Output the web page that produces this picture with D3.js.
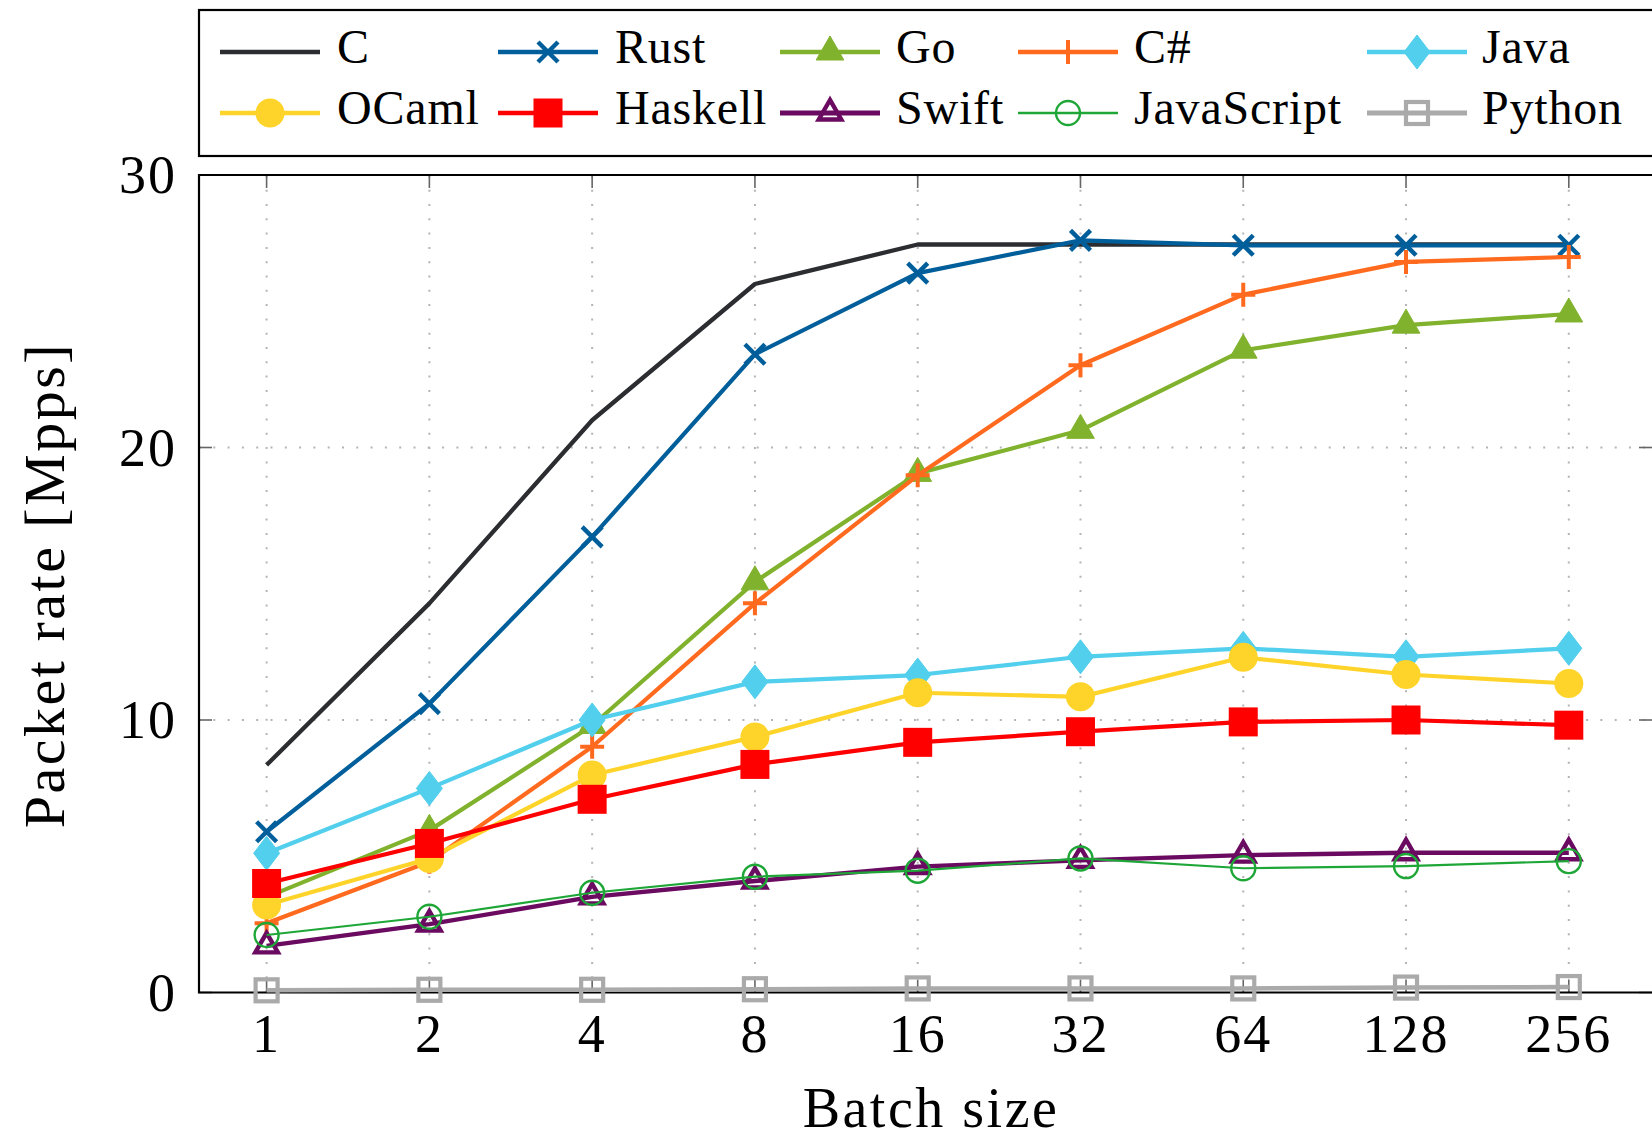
<!DOCTYPE html>
<html><head><meta charset="utf-8">
<script src="https://cdn.jsdelivr.net/npm/d3@7"></script>
<style>
html,body{margin:0;padding:0;background:#fff;}
svg{display:block;font-family:"Liberation Serif","Times New Roman",serif;}
</style></head>
<body>
<svg id="chart" width="1652" height="1143"></svg>
<script>
// ---- data ----
const batchSizes = ["1","2","4","8","16","32","64","128","256"];
const yTickValues = [0, 10, 20, 30];
const seriesNames = ["C","Rust","Go","C#","Java","OCaml","Haskell","Swift","JavaScript","Python"];
const valC       = [8.35, 14.28, 21.0, 26.0, 27.45, 27.45, 27.45, 27.45, 27.45];
const valRust    = [5.9, 10.6, 16.72, 23.42, 26.4, 27.6, 27.42, 27.42, 27.42];
const valGo      = [3.5, 5.95, 9.8, 15.07, 19.05, 20.63, 23.57, 24.49, 24.9];
const valCSharp  = [2.54, 4.8, 9.02, 14.28, 18.98, 23.02, 25.61, 26.81, 26.99];
const valJava    = [5.11, 7.49, 10.0, 11.4, 11.65, 12.32, 12.63, 12.32, 12.63];
const valOCaml   = [3.21, 4.92, 7.98, 9.38, 11.0, 10.85, 12.3, 11.67, 11.34];
const valHaskell = [4.0, 5.47, 7.09, 8.37, 9.18, 9.57, 9.93, 10.0, 9.81];
const valSwift   = [1.71, 2.51, 3.51, 4.09, 4.62, 4.85, 5.04, 5.13, 5.13];
const valJS      = [2.11, 2.78, 3.66, 4.25, 4.47, 4.92, 4.56, 4.64, 4.82];
const valPython  = [0.08, 0.1, 0.1, 0.12, 0.15, 0.15, 0.15, 0.18, 0.2];

// ---- styles ----
const styles = {
  "C":          {color:"#2b2d30", w:4.3, mark:"none"},
  "Rust":       {color:"#005f9b", w:4.2, mark:"x"},
  "Go":         {color:"#80b22d", w:4.2, mark:"triangleFilled"},
  "C#":         {color:"#ff6a1f", w:4.2, mark:"plus"},
  "Java":       {color:"#52cfec", w:4.2, mark:"diamond"},
  "OCaml":      {color:"#ffd42a", w:4.2, mark:"circleFilled"},
  "Haskell":    {color:"#ff0000", w:4.2, mark:"squareFilled"},
  "Swift":      {color:"#6a0a60", w:4.4, mark:"triangleOpen"},
  "JavaScript": {color:"#1ea637", w:2.2, mark:"circleOpen"},
  "Python":     {color:"#aaaaaa", w:4.5, mark:"squareOpen"}
};
const seriesValues = [valC, valRust, valGo, valCSharp, valJava, valOCaml, valHaskell, valSwift, valJS, valPython];

const svg = d3.select("#chart");
const L = 199, T = 175, B = 992.5, R = 1660;
const x = d3.scalePoint().domain(batchSizes).range([266.6, 1568.8]);
const y = d3.scaleLinear().domain([0, 30]).range([B, T]);

// grid
const grid = svg.append("g").attr("stroke","#b4b4b4").attr("stroke-width",2).attr("stroke-dasharray","2,12.3");
grid.selectAll("line.v").data(batchSizes).join("line")
  .attr("x1", d=>x(d)).attr("x2", d=>x(d)).attr("y1", B).attr("y2", T);
grid.selectAll("line.h").data(yTickValues.filter(v=>v>0 && v<30)).join("line")
  .attr("x1", L).attr("x2", R).attr("y1", d=>y(d)).attr("y2", d=>y(d));

// ticks (inward, all sides)
const tk = svg.append("g").attr("stroke","#666").attr("stroke-width",1.6);
batchSizes.forEach(d=>{
  tk.append("line").attr("x1",x(d)).attr("x2",x(d)).attr("y1",B).attr("y2",B-13);
  tk.append("line").attr("x1",x(d)).attr("x2",x(d)).attr("y1",T).attr("y2",T+13);
});
yTickValues.forEach(v=>{
  tk.append("line").attr("x1",L).attr("x2",L+13).attr("y1",y(v)).attr("y2",y(v));
  tk.append("line").attr("x1",1652).attr("x2",1652-13).attr("y1",y(v)).attr("y2",y(v));
});

// marker drawer
function drawMark(g, type, cx, cy, color) {
  if (type === "none") return;
  if (type === "x") {
    const h = 10;
    g.append("path").attr("d",`M${cx-h},${cy-h}L${cx+h},${cy+h}M${cx-h},${cy+h}L${cx+h},${cy-h}`)
      .attr("stroke",color).attr("stroke-width",4.4).attr("fill","none");
  } else if (type === "plus") {
    const h = 12;
    g.append("path").attr("d",`M${cx-h},${cy}L${cx+h},${cy}M${cx},${cy-h}L${cx},${cy+h}`)
      .attr("stroke",color).attr("stroke-width",4).attr("fill","none");
  } else if (type === "triangleFilled" || type === "triangleOpen") {
    const r = (type === "triangleFilled" ? 16 : 13);
    const pts = [[cx, cy-r],[cx-r*0.866, cy+r*0.5],[cx+r*0.866, cy+r*0.5]];
    const p = g.append("path").attr("d","M"+pts.map(p=>p.join(",")).join("L")+"Z");
    if (type === "triangleFilled") p.attr("fill",color).attr("stroke",color).attr("stroke-width",1);
    else p.attr("fill","none").attr("stroke",color).attr("stroke-width",4.4).attr("stroke-linejoin","miter");
  } else if (type === "diamond") {
    const hw = 13, hh = 17;
    g.append("path").attr("d",`M${cx},${cy-hh}L${cx+hw},${cy}L${cx},${cy+hh}L${cx-hw},${cy}Z`)
      .attr("fill",color).attr("stroke",color).attr("stroke-width",1);
  } else if (type === "circleFilled") {
    g.append("circle").attr("cx",cx).attr("cy",cy).attr("r",14.5).attr("fill",color);
  } else if (type === "circleOpen") {
    g.append("circle").attr("cx",cx).attr("cy",cy).attr("r",12).attr("fill","none")
      .attr("stroke",color).attr("stroke-width",2.4);
  } else if (type === "squareFilled") {
    const h = 14.5;
    g.append("rect").attr("x",cx-h).attr("y",cy-h).attr("width",2*h).attr("height",2*h).attr("fill",color);
  } else if (type === "squareOpen") {
    const h = 11;
    g.append("rect").attr("x",cx-h).attr("y",cy-h).attr("width",2*h).attr("height",2*h)
      .attr("fill","none").attr("stroke",color).attr("stroke-width",4.2);
  }
}

// axes frame
const frame = svg.append("g").attr("fill","none").attr("stroke","#000").attr("stroke-width",2.2);
frame.append("path").attr("d",`M${R},${T}L${L},${T}L${L},${B}L${R},${B}`);

// series
const line = d3.line().x((d,i)=>x(batchSizes[i])).y(d=>y(d));
seriesNames.forEach((name, si)=>{
  const st = styles[name];
  const vals = seriesValues[si];
  const g = svg.append("g");
  g.append("path").datum(vals).attr("d", line).attr("fill","none")
    .attr("stroke", st.color).attr("stroke-width", st.w).attr("stroke-linejoin","round");
  vals.forEach((v,i)=> drawMark(g, st.mark, x(batchSizes[i]), y(v), st.color));
});

// axis tick labels
const yl = svg.append("g").attr("font-size",54).attr("fill","#000").attr("text-anchor","end");
yTickValues.forEach(v=>{
  yl.append("text").attr("x",177).attr("y",y(v)+18).attr("letter-spacing",2).text(v);
});
const xl = svg.append("g").attr("font-size",54).attr("fill","#000").attr("text-anchor","middle");
batchSizes.forEach(d=>{
  xl.append("text").attr("x",x(d)).attr("y",1052).attr("letter-spacing",2).text(d);
});

// axis labels
svg.append("text").attr("x",931).attr("y",1127).attr("text-anchor","middle")
  .attr("font-size",56).attr("letter-spacing",2.5).text("Batch size");
svg.append("text").attr("transform","translate(64,585) rotate(-90)").attr("text-anchor","middle")
  .attr("font-size",58).attr("letter-spacing",2.5).text("Packet rate [Mpps]");

// legend
const lg = svg.append("g");
lg.append("rect").attr("x",199).attr("y",10).attr("width",1500).attr("height",146)
  .attr("fill","#fff").attr("stroke","#000").attr("stroke-width",2.2);
const colLineStart = [220, 498, 780, 1018, 1367];
const colText = [337, 615, 896, 1134, 1482];
const rowY = [52, 113];
const rowBase = [63, 124];
seriesNames.forEach((name, i)=>{
  const st = styles[name];
  const c = i % 5, r = Math.floor(i/5);
  const x0 = colLineStart[c], x1 = x0 + 100;
  lg.append("line").attr("x1",x0).attr("x2",x1).attr("y1",rowY[r]).attr("y2",rowY[r])
    .attr("stroke",st.color).attr("stroke-width",st.w + 0.4);
  drawMark(lg, st.mark, (x0+x1)/2, rowY[r], st.color);
  lg.append("text").attr("x",colText[c]).attr("y",rowBase[r]).attr("font-size",48)
    .attr("letter-spacing",0.8).text(name);
});
</script>
</body></html>
